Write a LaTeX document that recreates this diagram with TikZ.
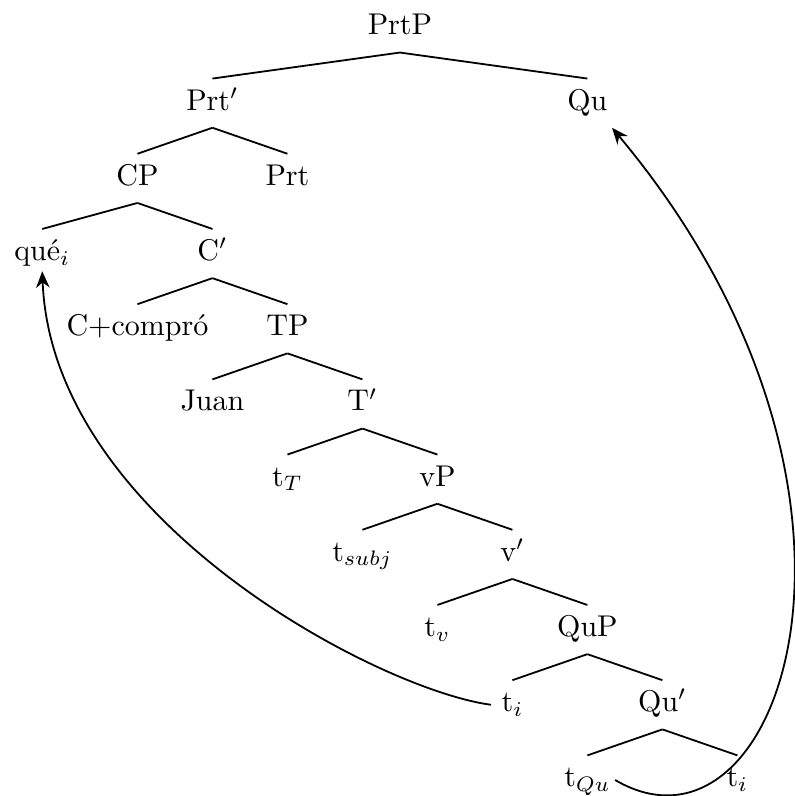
\documentclass[tikz,border=0pt]{standalone}
\usetikzlibrary{arrows.meta}
\tikzset{
    cat/.style={anchor=base, text height=7pt, text depth=2.33pt},
    branch/.style={line width=0.6pt},
    move/.style={line width=0.6pt, -{Stealth[length=5.5pt, width=4.5pt, inset=1.8pt]}}
}
\begin{document}
\begin{tikzpicture}[x=25pt, y=25.07pt]
    \useasboundingbox (-5.333,0.465) rectangle (5.267,-10.12);

    \node[cat] (PrtP) at (0,0) {PrtP};
    \node[cat] (Prtbar) at (-2.5,-1) {Prt$'$};
    \node[cat] (Qu) at (2.5,-1) {Qu};
    \node[cat] (CP) at (-3.5,-2) {CP};
    \node[cat] (Prt) at (-1.5,-2) {Prt};
    \node[cat] (que) at (-4.77,-3) {qué$_i$};
    \node[cat] (Cbar) at (-2.5,-3) {C$'$};
    \node[cat] (Ccompro) at (-3.5,-4) {C+compró};
    \node[cat] (TP) at (-1.5,-4) {TP};
    \node[cat] (Juan) at (-2.5,-5) {Juan};
    \node[cat] (Tbar) at (-0.5,-5) {T$'$};
    \node[cat] (tT) at (-1.5,-6) {t$_T$};
    \node[cat] (vP) at (0.5,-6) {vP};
    \node[cat] (tsubj) at (-0.5,-7) {t$_{subj}$};
    \node[cat] (vbar) at (1.5,-7) {v$'$};
    \node[cat] (tv) at (0.5,-8) {t$_v$};
    \node[cat] (QuP) at (2.5,-8) {QuP};
    \node[cat] (ti) at (1.5,-9) {t$_i$};
    \node[cat] (Qubar) at (3.5,-9) {Qu$'$};
    \node[cat] (tQu) at (2.5,-10) {t$_{Qu}$};
    \node[cat] (tii) at (4.5,-10) {t$_i$};

    \foreach \p/\c in {PrtP/Prtbar, PrtP/Qu, Prtbar/CP, Prtbar/Prt,
        CP/que, CP/Cbar, Cbar/Ccompro, Cbar/TP, TP/Juan, TP/Tbar,
        Tbar/tT, Tbar/vP, vP/tsubj, vP/vbar, vbar/tv, vbar/QuP,
        QuP/ti, QuP/Qubar, Qubar/tQu, Qubar/tii}
        \draw[branch] (\p.south) -- (\c.north);

    % movement arrows
    \draw[move] (ti.west) .. controls +(-1.5,0.2) and +(0.13,-3.3) .. ([yshift=2.3pt]que.south);
    \draw[move] ([xshift=-2pt]tQu.east) .. controls +(2.21,-1.3) and +(4.07,-4.85) .. ([xshift=-2pt]Qu.south east);
\end{tikzpicture}
\end{document}
